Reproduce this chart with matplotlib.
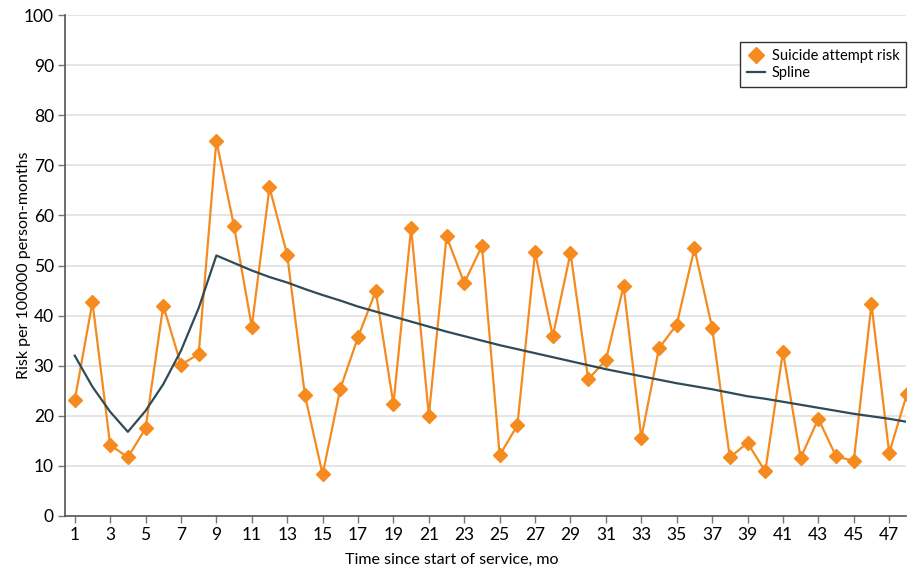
import numpy as np
import matplotlib.pyplot as plt
from matplotlib.lines import Line2D

plt.rcParams['font.family'] = ['Lato', 'DejaVu Sans']

months = list(range(1, 49))
risk = [23.1, 42.7, 14.2, 11.7, 17.5, 42.0, 30.2, 32.3, 74.9, 57.8,
        37.8, 65.6, 52.1, 24.1, 8.3, 25.4, 35.7, 44.9, 22.3, 57.5,
        20.0, 55.8, 46.5, 53.9, 12.1, 18.1, 52.6, 35.9, 52.5, 27.3,
        31.1, 45.9, 15.6, 33.5, 38.2, 53.4, 37.6, 11.7, 14.6, 8.9,
        32.8, 11.6, 19.4, 11.9, 11.0, 42.3, 12.6, 24.3]
spline = [32.0, 25.8, 20.8, 16.8, 21.0, 26.3, 33.0, 41.5, 52.0, 50.5,
          49.0, 47.7, 46.6, 45.3, 44.1, 43.0, 41.8, 40.8, 39.8, 38.8,
          37.8, 36.8, 35.9, 35.0, 34.1, 33.3, 32.5, 31.7, 30.9, 30.1,
          29.3, 28.6, 27.9, 27.2, 26.5, 25.9, 25.3, 24.6, 23.9, 23.4,
          22.8, 22.2, 21.6, 21.0, 20.4, 19.9, 19.4, 18.8]
xticks = list(range(1, 48, 2))
yticks = list(range(0, 101, 10))

orange = '#f58b1f'
slate = '#2f4b57'

fig = plt.figure(figsize=(9.1, 5.67), dpi=100)
ax = fig.add_axes([65 / 910, 1 - 516 / 567, (906 - 65) / 910, (516 - 15) / 567])

ax.plot(months, risk, color=orange, lw=1.6, marker='D', markersize=7.5,
        label='Suicide attempt risk', zorder=3)
ax.plot(months, spline, color=slate, lw=1.6, label='Spline', zorder=4)

ax.set_xlim(0.45, 47.95)
ax.set_ylim(0, 100)
ax.set_xticks(xticks)
ax.set_yticks(yticks)
ax.grid(axis='y', color='#e0e0e0', lw=1.2)
ax.set_axisbelow(True)
for s in ['top', 'right']:
    ax.spines[s].set_visible(False)
for s in ['left', 'bottom']:
    ax.spines[s].set_color('#555555')
    ax.spines[s].set_linewidth(1.2)
ax.tick_params(labelsize=12.5, color='#777777', length=5, width=1, pad=3)
ax.set_xlabel('Time since start of service, mo', fontsize=11.5)
ax.set_ylabel('Risk per 100000 person-months', fontsize=11.5)
# label positions in axes coords
ax.xaxis.set_label_coords(0.46, -0.074)
ax.yaxis.set_label_coords(-0.04, 0.5)

# legend handles: diamond only for the risk series
handles = [Line2D([], [], color=orange, marker='D', ls='none', markersize=8),
           Line2D([], [], color=slate, lw=1.6)]
leg = ax.legend(handles, ['Suicide attempt risk', 'Spline'], loc='upper right',
                bbox_to_anchor=(1.0, 0.946), borderaxespad=0, fontsize=10.5,
                fancybox=False, framealpha=1, edgecolor='#333333',
                handlelength=1.2, handletextpad=0.5, borderpad=0.45,
                labelspacing=0.25)
leg.get_frame().set_linewidth(1)

fig.savefig('out.png', dpi=100)
